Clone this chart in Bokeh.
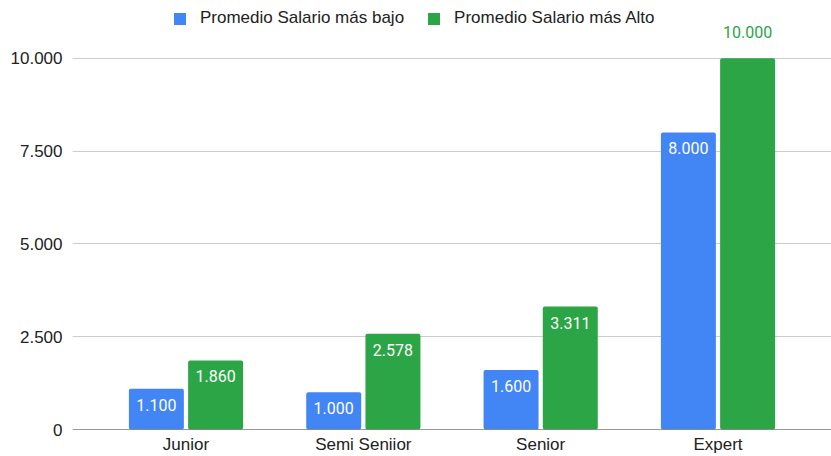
from bokeh.plotting import figure
from bokeh.models import ColumnDataSource, FactorRange, LabelSet, Legend, LegendItem, Span, FixedTicker
from bokeh.core.properties import value
from bokeh.transform import dodge
from bokeh.embed import file_html
from bokeh.resources import INLINE

categories = ["Junior", "Semi Seniior", "Senior", "Expert"]
bajo = [1100, 1000, 1600, 8000]
alto = [1860, 2578, 3311, 10000]
series_names = ["Promedio Salario más bajo", "Promedio Salario más Alto"]
y_ticks = [0, 2500, 5000, 7500, 10000]
y_tick_labels = ["0", "2.500", "5.000", "7.500", "10.000"]

BLUE = "#4285f4"
GREEN = "#2ba546"
FONT = "Liberation Sans"
LFONT = "Roboto"

def fmt(v):
    return f"{v:,}".replace(",", ".")

ymax = max(y_ticks)
src = ColumnDataSource(dict(cat=categories, bajo=bajo, alto=alto))

p = figure(width=831, height=456, x_range=FactorRange(*categories),
           y_range=(0, 11555), output_backend="svg", toolbar_location=None,
           min_border_left=72, min_border_right=0, min_border_top=0, min_border_bottom=25)
p.x_range.range_padding = 0.07
p.outline_line_color = None
p.background_fill_color = "white"
p.border_fill_color = "white"

W = 0.31
D = 0.167
r1 = p.vbar(x=dodge("cat", -D, range=p.x_range), top="bajo", width=W, source=src,
            fill_color=BLUE, line_color=None, border_radius=2)
r2 = p.vbar(x=dodge("cat", D, range=p.x_range), top="alto", width=W, source=src,
            fill_color=GREEN, line_color=None, border_radius=2)

# labels inside bars (white), outside for the bar that reaches the top of the scale
in_b = ColumnDataSource(dict(cat=[c for c, v in zip(categories, bajo) if v < ymax],
                             y=[v for v in bajo if v < ymax],
                             t=[fmt(v) for v in bajo if v < ymax]))
in_a = ColumnDataSource(dict(cat=[c for c, v in zip(categories, alto) if v < ymax],
                             y=[v for v in alto if v < ymax],
                             t=[fmt(v) for v in alto if v < ymax]))
out_a = ColumnDataSource(dict(cat=[c for c, v in zip(categories, alto) if v >= ymax],
                              y=[v for v in alto if v >= ymax],
                              t=[fmt(v) for v in alto if v >= ymax]))
for s, off in ((in_b, -D), (in_a, D)):
    p.add_layout(LabelSet(x=dodge("cat", off, range=p.x_range), y="y", text="t", source=s,
                          text_color="white", text_font=value(LFONT), text_font_size="16px",
                          text_align="center", text_baseline="middle", y_offset=-16))
p.add_layout(LabelSet(x=dodge("cat", D, range=p.x_range), y="y", text="t", source=out_a,
                      text_color=GREEN, text_font=value(LFONT), text_font_size="16px",
                      text_align="center", text_baseline="middle", y_offset=26))

p.xgrid.grid_line_color = None
p.ygrid.grid_line_color = "#cccccc"
p.ygrid.ticker = FixedTicker(ticks=y_ticks)
p.yaxis.ticker = FixedTicker(ticks=y_ticks)
p.yaxis.major_label_overrides = {t: l for t, l in zip(y_ticks, y_tick_labels)}
for ax in (p.xaxis, p.yaxis):
    ax.axis_line_color = None
    ax.major_tick_line_color = None
    ax.minor_tick_line_color = None
    ax.major_tick_out = 0
    ax.major_tick_in = 0
    ax.minor_tick_out = 0
    ax.minor_tick_in = 0
    ax.major_label_text_font = FONT
    ax.major_label_text_font_size = "17px"
    ax.major_label_text_color = "#222222"
p.yaxis.major_label_standoff = 10
p.xaxis.major_label_standoff = 5

p.add_layout(Span(location=0, dimension="width", line_color="#333333", line_width=1))

legend = Legend(items=[LegendItem(label=series_names[0], renderers=[r1]),
                       LegendItem(label=series_names[1], renderers=[r2])],
                orientation="horizontal", location=(100, 401),
                label_text_font=FONT, label_text_font_size="17px", label_text_color="#222222",
                glyph_width=15, glyph_height=15, label_standoff=13, spacing=22,
                padding=0, margin=0, border_line_color=None, background_fill_alpha=0)
p.add_layout(legend)

open("out.html", "w").write(file_html(p, INLINE))
